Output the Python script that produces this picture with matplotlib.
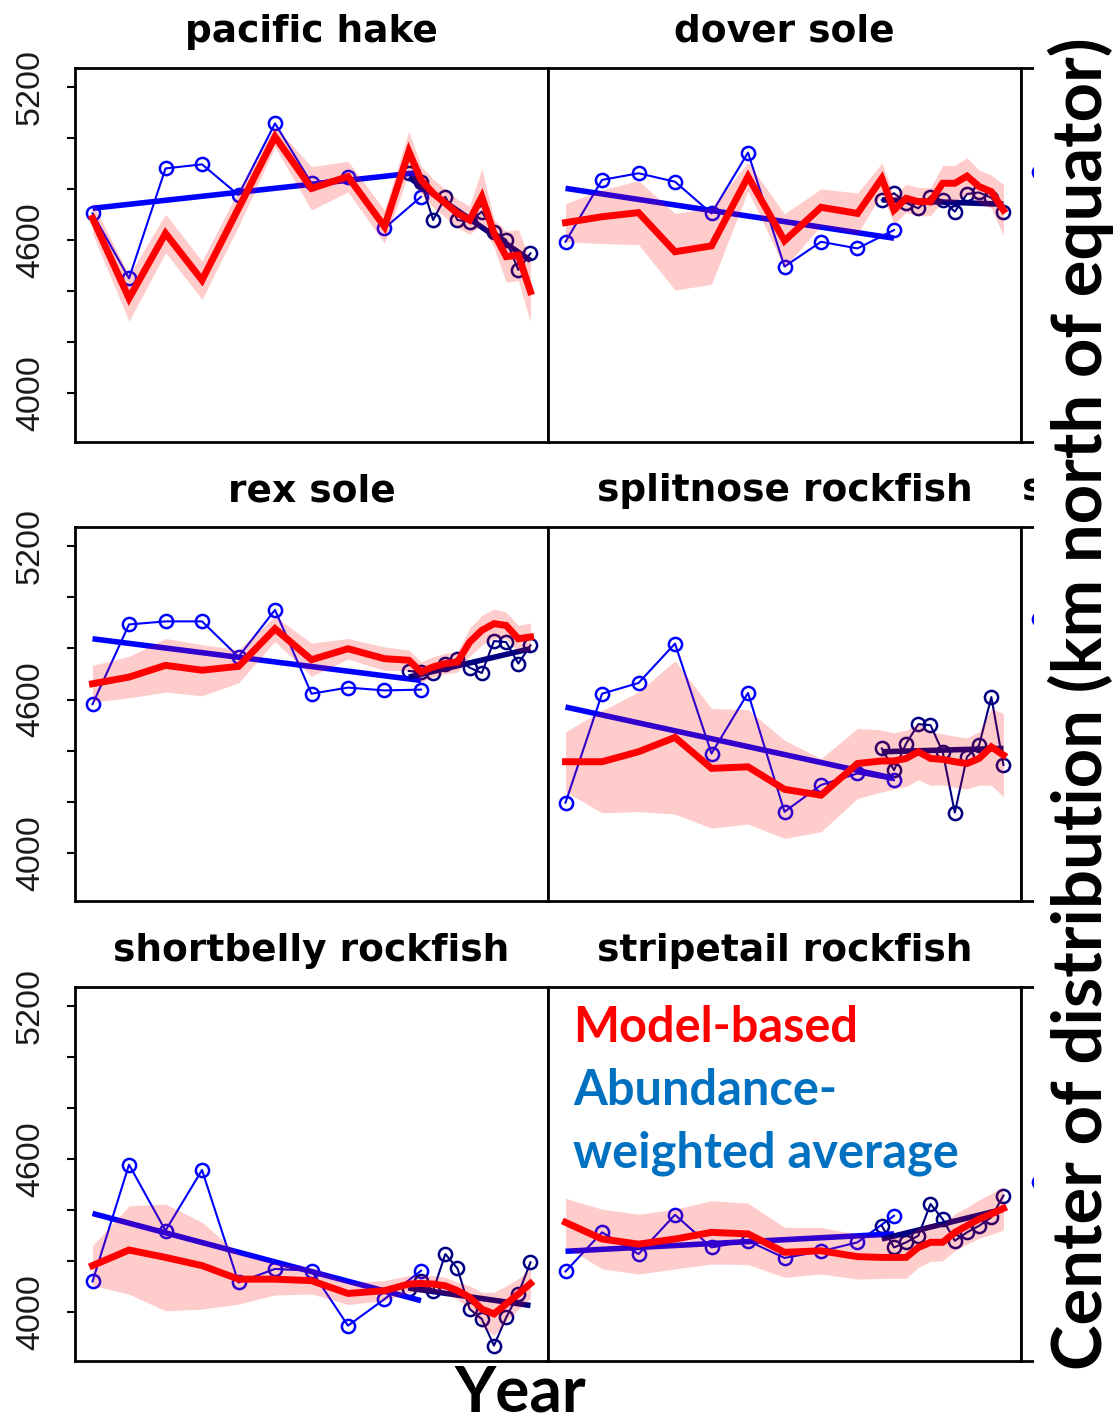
import matplotlib
matplotlib.use('Agg')
import matplotlib.pyplot as plt
from matplotlib.patches import Rectangle
import numpy as np

# Jahre der beiden Surveys und des Modells
years_tri = [1977, 1980, 1983, 1986, 1989, 1992, 1995, 1998, 2001, 2004]
years_ann = [2003, 2004, 2005, 2006, 2007, 2008, 2009, 2010, 2011, 2012, 2013]
years_model = [1977, 1980, 1983, 1986, 1989, 1992, 1995, 1998, 2001,
               2003, 2004, 2005, 2006, 2007, 2008, 2009, 2010, 2011, 2012, 2013]

# pacific hake
hake_tri = [4704, 4450, 4880, 4896, 4776, 5056, 4822, 4848, 4646, 4769]
hake_ann = [4862, 4828, 4678, 4769, 4678, 4672, 4711, 4633, 4600, 4483, 4548]
hake_model = [4685, 4372, 4626, 4443, 4724, 5004, 4802, 4848, 4652,
              4946, 4835, 4783, 4744, 4704, 4678, 4769, 4626, 4535, 4541, 4398]
hake_ci = [60, 90, 75, 75, 70, 40, 85, 60, 65, 80, 55, 55, 55, 55, 55, 110, 55, 100, 100, 120]
hake_tri_trend = [4724, 4865]
hake_ann_trend = [4845, 4520]

# dover sole
dover_tri = [4593, 4835, 4861, 4828, 4704, 4942, 4496, 4593, 4567, 4639]
dover_ann = [4756, 4783, 4745, 4724, 4770, 4755, 4711, 4780, 4786, 4765, 4711]
dover_model = [4668, 4691, 4707, 4554, 4577, 4848, 4597, 4728, 4704,
               4841, 4717, 4763, 4750, 4750, 4822, 4822, 4850, 4809, 4789, 4717]
dover_ci = [75, 105, 125, 150, 150, 56, 105, 72, 80, 60, 55, 55, 55, 55, 70, 70, 72, 65, 65, 100]
dover_tri_trend = [4802, 4607]
dover_ann_trend = [4757, 4740]

# rex sole
rex_tri = [4582, 4894, 4906, 4906, 4767, 4951, 4623, 4647, 4636, 4639]
rex_ann = [4712, 4708, 4704, 4741, 4760, 4725, 4704, 4829, 4825, 4741, 4812]
rex_model = [4662, 4688, 4734, 4715, 4730, 4877, 4756, 4799, 4760,
             4754, 4708, 4728, 4741, 4747, 4825, 4871, 4897, 4890, 4838, 4845]
rex_ci = [72, 81, 105, 100, 65, 49, 65, 40, 46, 40, 40, 40, 40, 40, 55, 58, 58, 52, 52, 55]
rex_tri_trend = [4838, 4675]
rex_ann_trend = [4688, 4799]

# splitnose rockfish
split_tri = [4197, 4623, 4665, 4819, 4389, 4626, 4161, 4266, 4311, 4285]
split_ann = [4409, 4324, 4428, 4504, 4500, 4396, 4158, 4376, 4422, 4610, 4344]
split_model = [4357, 4357, 4396, 4452, 4331, 4337, 4249, 4226, 4350,
               4360, 4360, 4370, 4396, 4370, 4366, 4357, 4350, 4370, 4415, 4383]
split_ci = [117, 200, 234, 300, 234, 224, 192, 143, 137, 121, 110, 110, 110, 105, 100, 100, 100, 105, 150, 163]
split_tri_trend = [4571, 4292]
split_ann_trend = [4396, 4409]

# shortbelly rockfish
short_tri = [4121, 4578, 4320, 4557, 4117, 4170, 4163, 3948, 4052, 4163]
short_ann = [4091, 4124, 4085, 4228, 4172, 4013, 3974, 3870, 3980, 4072, 4196]
short_model = [4183, 4244, 4215, 4183, 4130, 4130, 4124, 4074, 4085,
               4111, 4113, 4111, 4104, 4085, 4059, 4013, 3994, 4033, 4072, 4113]
short_ci = [78, 173, 209, 170, 98, 62, 52, 43, 39, 33, 33, 33, 33, 33, 45, 65, 85, 70, 60, 60]
short_tri_trend = [4387, 4046]
short_ann_trend = [4095, 4027]

# stripetail rockfish
stripe_tri = [4160, 4313, 4228, 4382, 4254, 4280, 4213, 4239, 4274, 4378]
stripe_ann = [4339, 4254, 4274, 4300, 4424, 4365, 4280, 4313, 4339, 4372, 4457]
stripe_model = [4352, 4287, 4267, 4287, 4313, 4307, 4235, 4241, 4218,
                4215, 4215, 4215, 4254, 4274, 4274, 4313, 4339, 4365, 4385, 4407]
stripe_ci = [94, 117, 117, 117, 124, 120, 98, 91, 88, 82, 82, 82, 78, 75, 72, 72, 72, 75, 80, 85]
stripe_tri_trend = [4239, 4307]
stripe_ann_trend = [4287, 4404]

# erster Punkt der abgeschnittenen dritten Spalte (Zeile 1-3)
side_first = [4867, 4916, 4509]

y_ticks = [4000, 4200, 4400, 4600, 4800, 5000, 5200]
y_ticklabels = ['4000', '', '', '4600', '', '', '5200']

panels = [
    ('pacific hake', hake_tri, hake_ann, hake_model, hake_ci, hake_tri_trend, hake_ann_trend),
    ('dover sole', dover_tri, dover_ann, dover_model, dover_ci, dover_tri_trend, dover_ann_trend),
    ('rex sole', rex_tri, rex_ann, rex_model, rex_ci, rex_tri_trend, rex_ann_trend),
    ('splitnose rockfish', split_tri, split_ann, split_model, split_ci, split_tri_trend, split_ann_trend),
    ('shortbelly rockfish', short_tri, short_ann, short_model, short_ci, short_tri_trend, short_ann_trend),
    ('stripetail rockfish', stripe_tri, stripe_ann, stripe_model, stripe_ci, stripe_tri_trend, stripe_ann_trend),
]

W, H = 1116, 1423
XLIM = (1975.56, 2014.44)
YLIM = (3811, 5274)
col_left = [75, 548, 1021]
row_top = [67.7, 527.3, 986.7]
panel_w, panel_h = 473, 374

# Stil der Kreise / duennen Linien
pt_style = dict(lw=1.5, marker='o', mfc='none', ms=9.5, mew=1.8)


def px_box(left, top, width, height):
    """Pixelbox (von oben gemessen) -> Figure-Koordinaten"""
    return [left / W, 1 - (top + height) / H, width / W, height / H]


def style_axes(ax, with_yticks):
    ax.set_xlim(XLIM)
    ax.set_ylim(YLIM)
    ax.set_xticks([])
    for sp in ax.spines.values():
        sp.set_linewidth(2)
        sp.set_color('black')
    if with_yticks:
        ax.set_yticks(y_ticks)
        ax.set_yticklabels(y_ticklabels, rotation=90, va='center',
                           family='Liberation Sans', fontsize=24.5, color='#1a1a1a')
        ax.tick_params(axis='y', direction='out', length=5.8, width=1.5, pad=15)
    else:
        ax.set_yticks([])


fig = plt.figure(figsize=(W / 100, H / 100), dpi=100)

for i, (name, tri, ann, model, ci, tri_trend, ann_trend) in enumerate(panels):
    r, c = divmod(i, 2)
    ax = fig.add_axes(px_box(col_left[c], row_top[r], panel_w, panel_h))

    # Abundanz-gewichtete Mittel (Triennial blau, jaehrlich navy)
    ax.plot(years_tri, tri, color='blue', zorder=2, **pt_style)
    ax.plot(years_ann, ann, color='navy', zorder=2, **pt_style)

    # lineare Trends
    ax.plot([years_tri[0], years_tri[-1]], tri_trend, color='blue', lw=4,
            solid_capstyle='butt', zorder=3)
    ax.plot([years_ann[0], years_ann[-1]], ann_trend, color='navy', lw=4,
            solid_capstyle='butt', zorder=3)

    # Modell mit Konfidenzband (transparent ueber den blauen Linien)
    model = np.array(model)
    ci = np.array(ci)
    ax.fill_between(years_model, model - ci, model + ci, color='red',
                    alpha=0.2, lw=0, zorder=4)
    ax.plot(years_model, model, color='red', lw=5, solid_joinstyle='miter',
            zorder=5)

    ax.set_title(name, fontsize=27, fontweight='bold', family='DejaVu Sans', pad=18.7)
    style_axes(ax, c == 0)

# dritte Spalte, rechts abgeschnitten
for r in range(3):
    ax = fig.add_axes(px_box(col_left[2], row_top[r], panel_w, panel_h))
    ax.plot([years_tri[0]], [side_first[r]], color='blue', marker='o', mfc='none',
            ms=9.5, mew=1.8, lw=0)
    style_axes(ax, False)

fig.text(1022 / W, 1 - 500.7 / H, 's', fontsize=27, fontweight='bold',
         family='DejaVu Sans', ha='left', va='baseline')

# weisser Kasten ueber dem Rest der dritten Spalte
fig.add_artist(Rectangle((1034 / W, 0), 1 - 1034 / W, 1, transform=fig.transFigure,
                         facecolor='white', edgecolor='none', zorder=10))

ylab = fig.text(1102 / W, 1 - 704 / H, 'Center of distribution (km north of equator)',
                rotation=90, rotation_mode='anchor', ha='center', va='baseline',
                family='Lato', fontweight='bold', fontsize=50, zorder=11)
xlab = fig.text(520 / W, 1 - 1412 / H, 'Year', ha='center', va='baseline',
                family='Lato', fontweight='bold', fontsize=48, zorder=11)

# Legende im letzten Panel
leg_model = fig.text(573 / W, 1 - 1042 / H, 'Model-based', color='#FF0000',
                     family='Lato', fontweight='bold', fontsize=36, zorder=11)
leg_abund1 = fig.text(573 / W, 1 - 1105 / H, 'Abundance-', color='#0070C0',
                      family='Lato', fontweight='bold', fontsize=36, zorder=11)
leg_abund2 = fig.text(573 / W, 1 - 1168 / H, 'weighted average', color='#0070C0',
                      family='Lato', fontweight='bold', fontsize=36, zorder=11)

# Schriftgroessen an die Breiten im Original anpassen
fig.canvas.draw()
renderer = fig.canvas.get_renderer()


def fit_text(t, target_px, horizontal=True):
    for _ in range(3):
        bb = t.get_window_extent(renderer)
        size = bb.width if horizontal else bb.height
        t.set_fontsize(t.get_fontsize() * target_px / size)


fit_text(ylab, 1332, horizontal=False)
fit_text(xlab, 132)
fit_text(leg_abund2, 386)
leg_model.set_fontsize(leg_abund2.get_fontsize())
leg_abund1.set_fontsize(leg_abund2.get_fontsize())

fig.savefig('out.png', dpi=100, facecolor='white')
plt.close(fig)
